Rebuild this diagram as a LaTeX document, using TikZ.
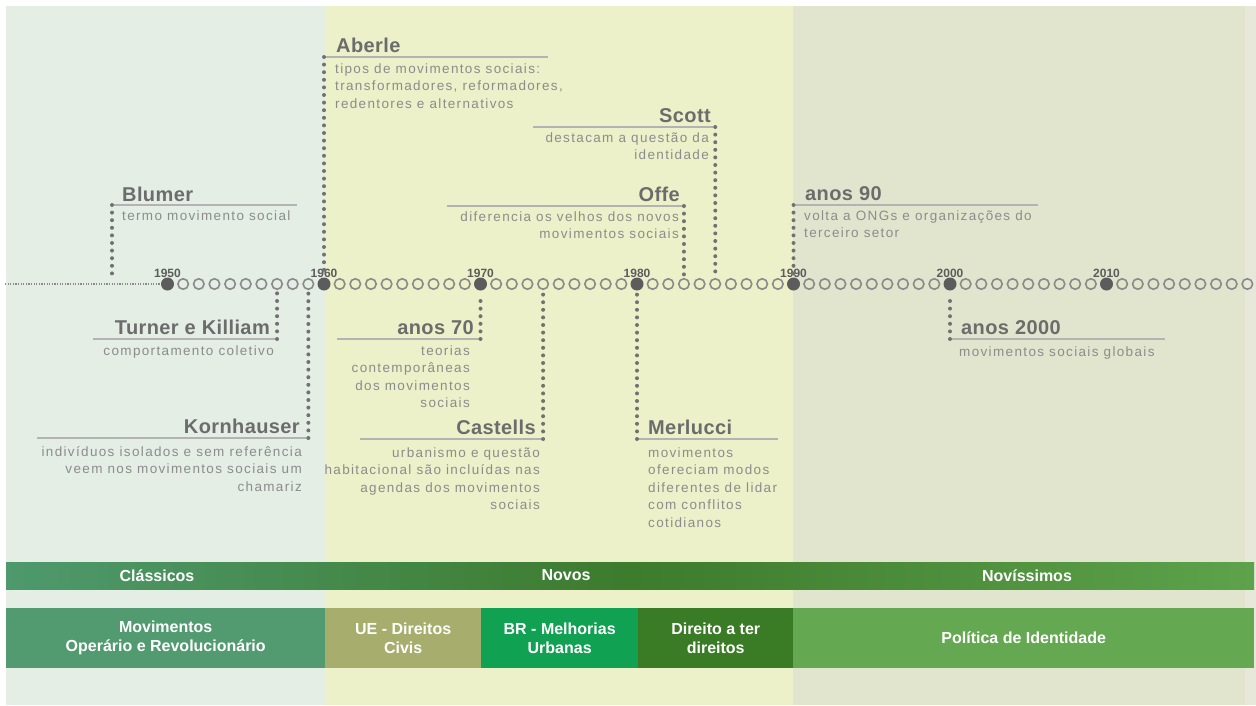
\documentclass[tikz,border=0pt]{standalone}
\usepackage{fontspec}
\setmainfont{Liberation Sans}
\newfontfamily\descfont[LetterSpace=10]{Liberation Sans}
\newfontfamily\titlefont[LetterSpace=2]{Liberation Sans}
\newcommand{\fl}{\rule{0pt}{11pt}}
\definecolor{bgA}{HTML}{E4EEE5}
\definecolor{bgB}{HTML}{EDF1C9}
\definecolor{bgC}{HTML}{E2E5CE}
\definecolor{bgD}{HTML}{E7E8DA}
\definecolor{titlec}{HTML}{6C6C6C}
\definecolor{descc}{HTML}{8C8C8C}
\definecolor{rulec}{HTML}{B3B3B3}
\definecolor{dotc}{HTML}{727272}
\definecolor{circc}{HTML}{8A8A8A}
\definecolor{filledc}{HTML}{5C5C5C}
\definecolor{segA}{HTML}{529B70}
\definecolor{segB}{HTML}{A7AD6C}
\definecolor{segC}{HTML}{10A152}
\definecolor{segD}{HTML}{3A7B25}
\definecolor{segE}{HTML}{65A852}
\definecolor{bandL}{HTML}{4E996D}
\definecolor{bandM}{HTML}{3D7B2D}
\definecolor{bandR}{HTML}{5EA24B}
\tikzset{
  evtitle/.style={font=\titlefont\bfseries\fontsize{20}{22}\selectfont, text=titlec, inner sep=0},
  evdesc/.style={font=\descfont\fontsize{13.5}{17.5}\selectfont, text=descc, inner sep=0},
  yearlbl/.style={font=\bfseries\fontsize{12}{12}\selectfont, text=filledc, inner sep=0, anchor=base},
  rulel/.style={draw=rulec, line width=1.5},
  pin/.style={draw=dotc, line width=4, dash pattern=on 0pt off 7.6pt, line cap=round},
  leftdots/.style={draw=circc, line width=1.6, dash pattern=on 1.2pt off 1.4pt},
  opencirc/.style={circle, draw=circc, line width=1.6, minimum size=10.5, inner sep=0},
  fillcirc/.style={circle, fill=filledc, minimum size=13, inner sep=0},
  bandtxt/.style={font=\bfseries\fontsize{16}{19}\selectfont, text=white, align=center, inner sep=0},
  seg/.style={bandtxt, minimum height=60, anchor=west}
}
\begin{document}
\begin{tikzpicture}[x=1pt,y=-1pt]
\useasboundingbox (0,0) rectangle (1256,705);
% backgrounds
\fill[white] (0,0) rectangle (1256,705);
\fill[bgA] (6,6) rectangle (325,705);
\fill[bgB] (325,6) rectangle (793,705);
\fill[bgC] (793,6) rectangle (1245,705);
\fill[bgD] (1245,6) rectangle (1256,705);

% timeline circles
\foreach \d in {0,...,6}{
  \pgfmathsetmacro\xd{167.5+\d*156.5}
  \node[fillcirc] (t\d0) at (\xd,284) {};
  \foreach \j in {1,...,9}{
    \pgfmathsetmacro\xj{\xd+\j*15.65}
    \node[opencirc] (t\d\j) at (\xj,284) {};
  }
}
\coordinate (tl0) at (5,284);
\draw[leftdots] (tl0) -- (t00.west);
\foreach \d/\yr in {0/1950,1/1960,2/1970,3/1980,4/1990,5/2000,6/2010}{
  \node[yearlbl] (y\yr) at ({167.5+\d*156.5},277) {\yr};
}

% ---- events above ----
% Blumer
\coordinate (bl) at (112,205);
\coordinate (blb) at (112,277);
\coordinate (blr) at (297,205);
\draw[rulel] (bl) -- (blr);
\draw[pin] (bl) -- (blb);
\node[evtitle, anchor=base west] (blT) at (122,201) {Blumer};
\node[evdesc, anchor=north west, align=left] (blD) at (122,209) {\fl termo movimento social};

% Aberle
\coordinate (ab) at (t10 |- 0,57);
\coordinate (abr) at (548,57);
\draw[rulel] (ab) -- (abr);
\draw[pin, shorten >=3pt] (ab) -- (t10.north);
\node[evtitle, anchor=base west] (abT) at (336,52) {Aberle};
\node[evdesc, anchor=north west, align=left] (abD) at (335,62) {\fl tipos de movimentos sociais:\\transformadores, reformadores,\\redentores e alternativos};

% Scott
\coordinate (sc) at (t35 |- 0,127);
\coordinate (scl) at (533,127);
\draw[rulel] (scl) -- (sc);
\draw[pin, shorten >=3pt] (sc) -- (t35.north);
\node[evtitle, anchor=base east] (scT) at (711,122) {Scott};
\node[evdesc, anchor=north east, align=right] (scD) at (709,131) {\fl destacam a questão da\\identidade};

% Offe
\coordinate (of) at (t33 |- 0,206);
\coordinate (ofl) at (447,206);
\draw[rulel] (ofl) -- (of);
\draw[pin, shorten >=3pt] (of) -- (t33.north);
\node[evtitle, anchor=base east] (ofT) at (680,201) {Offe};
\node[evdesc, anchor=north east, align=right] (ofD) at (679,210) {\fl diferencia os velhos dos novos\\movimentos sociais};

% anos 90
\coordinate (a9) at (t40 |- 0,205);
\coordinate (a9r) at (1038,205);
\draw[rulel] (a9) -- (a9r);
\draw[pin, shorten >=3pt] (a9) -- (t40.north);
\node[evtitle, anchor=base west] (a9T) at (805,200) {anos 90};
\node[evdesc, anchor=north west, align=left] (a9D) at (804,209) {\fl volta a ONGs e organizações do\\terceiro setor};

% ---- events below ----
% Turner e Killiam
\coordinate (tk) at (t07 |- 0,339);
\coordinate (tkl) at (93,339);
\draw[rulel] (tkl) -- (tk);
\draw[pin, shorten >=3pt] (tk) -- (t07.south);
\node[evtitle, anchor=base east] (tkT) at (270,334) {Turner e Killiam};
\node[evdesc, anchor=north east, align=right] (tkD) at (274,344) {\fl comportamento coletivo};

% Kornhauser
\coordinate (ko) at (t09 |- 0,438);
\coordinate (kol) at (37,438);
\draw[rulel] (kol) -- (ko);
\draw[pin, shorten >=3pt] (ko) -- (t09.south);
\node[evtitle, anchor=base east] (koT) at (300,433) {Kornhauser};
\node[evdesc, anchor=north east, align=right] (koD) at (302,445) {\fl indivíduos isolados e sem referência\\veem nos movimentos sociais um\\chamariz};

% anos 70
\coordinate (a7) at (t20 |- 0,339);
\coordinate (a7l) at (337,339);
\draw[rulel] (a7l) -- (a7);
\draw[pin, shorten >=3pt] (a7) -- (t20.south);
\node[evtitle, anchor=base east] (a7T) at (474,334) {anos 70};
\node[evdesc, anchor=north east, align=right] (a7D) at (470,344) {\fl teorias\\contemporâneas\\dos movimentos\\sociais};

% Castells
\coordinate (ca) at (t24 |- 0,439);
\coordinate (cal) at (360,439);
\draw[rulel] (cal) -- (ca);
\draw[pin, shorten >=3pt] (ca) -- (t24.south);
\node[evtitle, anchor=base east] (caT) at (536,434) {Castells};
\node[evdesc, anchor=north east, align=right] (caD) at (540,446) {\fl urbanismo e questão\\habitacional são incluídas nas\\agendas dos movimentos\\sociais};

% Merlucci
\coordinate (me) at (t30 |- 0,439);
\coordinate (mer) at (778,439);
\draw[rulel] (me) -- (mer);
\draw[pin, shorten >=3pt] (me) -- (t30.south);
\node[evtitle, anchor=base west] (meT) at (648,434) {Merlucci};
\node[evdesc, anchor=north west, align=left] (meD) at (648,446) {\fl movimentos\\ofereciam modos\\diferentes de lidar\\com conflitos\\cotidianos};

% anos 2000
\coordinate (a2) at (t50 |- 0,339);
\coordinate (a2r) at (1165,339);
\draw[rulel] (a2) -- (a2r);
\draw[pin, shorten >=3pt] (a2) -- (t50.south);
\node[evtitle, anchor=base west] (a2T) at (961,334) {anos 2000};
\node[evdesc, anchor=north west, align=left] (a2D) at (959,345) {\fl movimentos sociais globais};

% ---- bands ----
\shade[left color=bandL, right color=bandR, middle color=bandM] (6,562) rectangle (1254,589);
\node[bandtxt] (clas) at (157,575.5) {Clássicos};
\node[bandtxt] (novo) at (566,575.5) {Novos};
\node[bandtxt] (novi) at (1027,575.5) {Novíssimos};

\node[seg, fill=segA, minimum width=319] (s1) at (6,638) {Movimentos\\Operário e Revolucionário};
\node[seg, fill=segB, minimum width=156] (s2) at (325,638) {UE - Direitos\\Civis};
\node[seg, fill=segC, minimum width=157] (s3) at (481,638) {BR - Melhorias\\Urbanas};
\node[seg, fill=segD, minimum width=155] (s4) at (638,638) {Direito a ter\\direitos};
\node[seg, fill=segE, minimum width=461] (s5) at (793,638) {Política de Identidade};
\end{tikzpicture}
\end{document}
